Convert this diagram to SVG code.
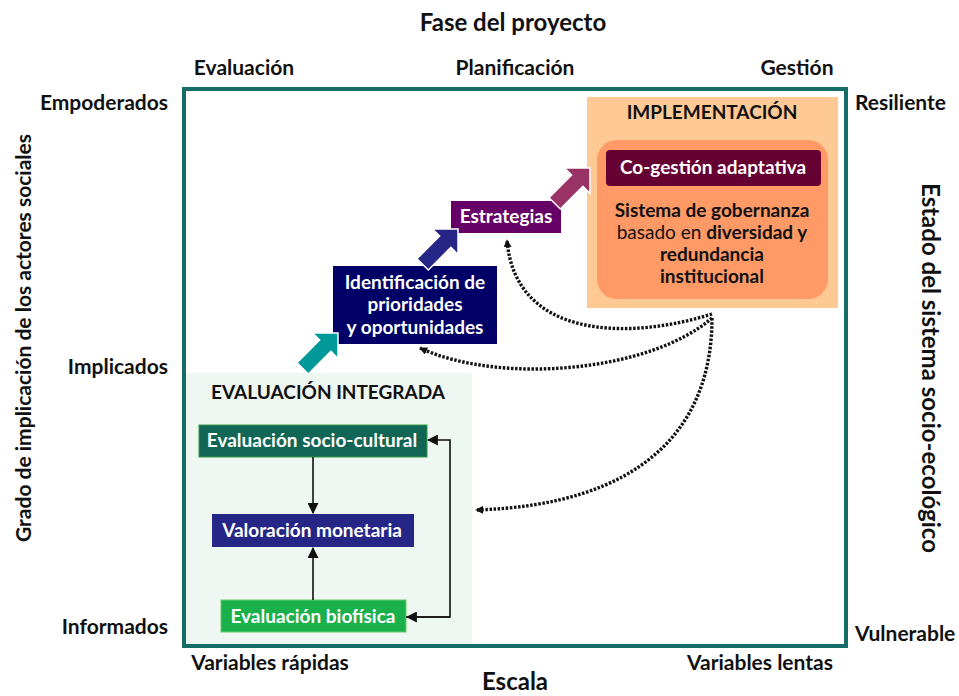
<svg xmlns="http://www.w3.org/2000/svg" width="959" height="696" viewBox="0 0 959 696">
<defs>
<style>
text{font-family:Lato,"Open Sans","Liberation Sans",sans-serif;font-weight:bold;}
.ax{font-size:21px;fill:#111;}
.axt{font-size:24px;fill:#111;}
.wt{fill:#fff;font-size:19px;text-anchor:middle;}
.bt{fill:#111;font-size:19px;text-anchor:middle;}
.sol{fill:none;stroke:#111;stroke-width:1.6;}
.dot{fill:none;stroke:#111;stroke-width:3.4;stroke-dasharray:2.5 1.6;}
.blk{stroke:#fff;stroke-width:1.5;}
</style>
<marker id="ah" viewBox="0 0 10 10" refX="9" refY="5" markerWidth="8" markerHeight="8" orient="auto" markerUnits="userSpaceOnUse">
<path d="M0,0 L10,5 L0,10 Z" fill="#111"/>
</marker>
<marker id="ah2" viewBox="0 0 10 10" refX="9" refY="5" markerWidth="11" markerHeight="11" orient="auto" markerUnits="userSpaceOnUse">
<path d="M0,0 L10,5 L0,10 Z" fill="#111"/>
</marker>
<path id="barrow" d="M0,0 L-18,-18 L-18,-8 L-50,-8 L-50,8 L-18,8 L-18,18 Z"/>
</defs>
<rect width="959" height="696" fill="#fff"/>

<g id="axes">
<text class="axt" x="513" y="31" text-anchor="middle">Fase del proyecto</text>
<text class="ax" x="244" y="75" text-anchor="middle">Evaluación</text>
<text class="ax" x="515" y="75" text-anchor="middle">Planificación</text>
<text class="ax" x="797" y="75" text-anchor="middle">Gestión</text>
<text class="ax" x="168" y="110" text-anchor="end">Empoderados</text>
<text class="ax" x="168" y="374" text-anchor="end">Implicados</text>
<text class="ax" x="168" y="634" text-anchor="end">Informados</text>
<text class="ax" x="855" y="110">Resiliente</text>
<text class="ax" x="855" y="641">Vulnerable</text>
<text class="ax" x="270" y="670" text-anchor="middle">Variables rápidas</text>
<text class="ax" x="760" y="670" text-anchor="middle">Variables lentas</text>
<text class="axt" x="515" y="690" text-anchor="middle" font-size="23">Escala</text>
<text class="ax" transform="translate(31,338) rotate(-90)" text-anchor="middle">Grado de implicación de los actores sociales</text>
<text class="axt" transform="translate(922,368) rotate(90)" text-anchor="middle">Estado del sistema socio-ecológico</text>
</g>

<rect id="frame" x="184" y="89" width="662" height="557" fill="none" stroke="#166d67" stroke-width="4"/>

<g id="evaluacion-integrada">
<rect x="186" y="373" width="286" height="271" fill="#eef7f2"/>
<text x="328" y="399" class="bt" font-size="20.5">EVALUACIÓN INTEGRADA</text>
</g>

<g id="socio-cultural">
<rect x="199" y="425" width="228" height="32" fill="#116655" stroke="#339944" stroke-width="1"/>
<text class="wt" x="312" y="447">Evaluación socio-cultural</text>
</g>
<g id="monetaria">
<rect x="212" y="514" width="202" height="33" fill="#262686"/>
<text class="wt" x="312" y="537">Valoración monetaria</text>
</g>
<g id="biofisica">
<rect x="221" y="600" width="185" height="32" fill="#1ab04c" stroke="#66cc66" stroke-width="1"/>
<text class="wt" x="313" y="623">Evaluación biofísica</text>
</g>

<g id="identificacion">
<rect x="333" y="266" width="164" height="78" fill="#000066"/>
<text class="wt" x="415" y="289">Identificación de</text>
<text class="wt" x="415" y="311">prioridades</text>
<text class="wt" x="415" y="334">y oportunidades</text>
</g>

<g id="estrategias">
<rect x="451" y="201" width="110" height="32" fill="#660066"/>
<text class="wt" x="506" y="223">Estrategias</text>
</g>

<g id="implementacion">
<rect x="587" y="97" width="251" height="211" fill="#ffc995"/>
<text class="bt" x="712" y="119" font-size="16">IMPLEMENTACIÓN</text>
<rect x="597" y="140" width="231" height="159" rx="20" fill="#ff9966"/>
<rect x="606" y="150" width="215" height="36" rx="4" fill="#660033"/>
<text class="wt" x="713" y="174">Co-gestión adaptativa</text>
<text class="bt" x="712" y="217">Sistema de gobernanza</text>
<text class="bt" x="712" y="239"><tspan font-weight="normal">basado en </tspan>diversidad y</text>
<text class="bt" x="712" y="261">redundancia</text>
<text class="bt" x="712" y="283">institucional</text>
</g>

<g id="connectors">
<use href="#barrow" fill="#009999" class="blk" transform="translate(338,333) rotate(-45)"/>
<use href="#barrow" fill="#262686" class="blk" transform="translate(458,229) rotate(-45)"/>
<use href="#barrow" fill="#993366" class="blk" transform="translate(590,168) rotate(-45)"/>
<line class="sol" x1="313" y1="457" x2="313" y2="513" marker-end="url(#ah2)"/>
<line class="sol" x1="313" y1="600" x2="313" y2="548" marker-end="url(#ah2)"/>
<path class="sol" d="M406,617 H450 V440 H428" marker-end="url(#ah2)"/>
<line class="sol" x1="450" y1="617" x2="407" y2="617" marker-end="url(#ah2)"/>
<path class="dot" d="M712,314 C630,340 515,340 507,240" marker-end="url(#ah)"/>
<path class="dot" d="M712,318 C650,372 500,385 420,348" marker-end="url(#ah)"/>
<path class="dot" d="M712,318 C712,430 640,505 476,510" marker-end="url(#ah)"/>
</g>
</svg>
